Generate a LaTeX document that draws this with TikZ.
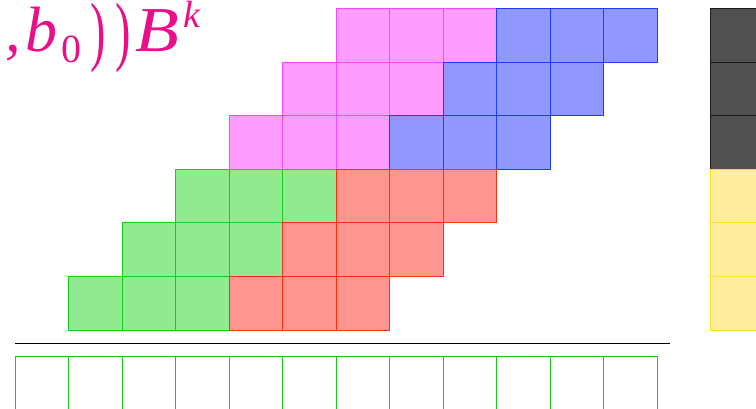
\documentclass[tikz,border=0pt]{standalone}
\usepackage{graphicx}
\usepackage{fontspec}
\newfontfamily\tms{Liberation Serif}
\definecolor{pinkF}{HTML}{FF9CFF}
\definecolor{pinkD}{HTML}{FF44FF}
\definecolor{blueF}{HTML}{9098FF}
\definecolor{blueD}{HTML}{1E3CFF}
\definecolor{greenF}{HTML}{90EA90}
\definecolor{greenD}{HTML}{18CC18}
\definecolor{redF}{HTML}{FF9590}
\definecolor{redD}{HTML}{FF3010}
\definecolor{darkF}{HTML}{505050}
\definecolor{darkD}{HTML}{1A1A1A}
\definecolor{yelF}{HTML}{FFEC9C}
\definecolor{yelD}{HTML}{FFDF20}
\definecolor{txt}{HTML}{E8108A}
\begin{document}
\begin{tikzpicture}[x=1pt,y=-1pt,line width=1pt,
  pinkcell/.style={draw=pinkD,fill=pinkF},
  bluecell/.style={draw=blueD,fill=blueF},
  greencell/.style={draw=greenD,fill=greenF},
  redcell/.style={draw=redD,fill=redF},
  darkcell/.style={draw=darkD,fill=darkF},
  yelcell/.style={draw=yelD,fill=yelF},
  emptycell/.style={draw=greenD,fill=white},
  glyph/.style={anchor=base west,inner sep=0pt,text=txt}]
\useasboundingbox (0,0) rectangle (756,409);
\def\s{53.5}
% upper rows
\foreach \r in {0,1,2}{
  \foreach \k in {0,1,2}{
    \draw[pinkcell] ({15+\s*(6-\r+\k)},{9+\s*\r}) rectangle ++(\s,\s);
  }
  \foreach \k in {0,1,2}{
    \draw[bluecell] ({15+\s*(9-\r+\k)},{9+\s*\r}) rectangle ++(\s,\s);
  }
}
% lower rows
\foreach \r in {3,4,5}{
  \foreach \k in {0,1,2}{
    \draw[greencell] ({15+\s*(6-\r+\k)},{9+\s*\r}) rectangle ++(\s,\s);
  }
  \foreach \k in {0,1,2}{
    \draw[redcell] ({15+\s*(9-\r+\k)},{9+\s*\r}) rectangle ++(\s,\s);
  }
}
% right column
\foreach \r in {0,1,2}{
  \draw[darkcell] ({15+\s*13},{9+\s*\r}) rectangle ++(\s,\s);
}
\foreach \r in {3,4,5}{
  \draw[yelcell] ({15+\s*13},{9+\s*\r}) rectangle ++(\s,\s);
}
% separator line
\coordinate (la) at (15,343.3);
\coordinate (lb) at (670,343.3);
\draw[black,line width=1.1pt] (la) -- (lb);
% bottom row
\foreach \c in {0,...,11}{
  \draw[emptycell] ({15+\s*\c},356.75) rectangle ++(\s,\s);
}
% label ,b_0))B^k
\node[glyph,font=\tms\itshape\fontsize{62}{70}\selectfont] (gcomma) at (5,52) {,};
\node[glyph,font=\tms\itshape\fontsize{64}{70}\selectfont] (gb) at (25,52) {b};
\node[glyph,font=\tms\fontsize{40}{44}\selectfont] (gzero) at (61,63) {0};
\node[glyph,font=\tms\fontsize{77}{80}\selectfont] (gpa) at (90,56.4) {\scalebox{0.6}[1]{)}};
\node[glyph,font=\tms\fontsize{77}{80}\selectfont] (gpb) at (115,56.4) {\scalebox{0.6}[1]{)}};
\node[glyph,font=\tms\itshape\fontsize{64}{70}\selectfont] (gB) at (135,52) {\scalebox{1.12}[1]{B}};
\node[glyph,font=\tms\itshape\fontsize{38}{42}\selectfont] (gk) at (183,28) {k};
\end{tikzpicture}
\end{document}
